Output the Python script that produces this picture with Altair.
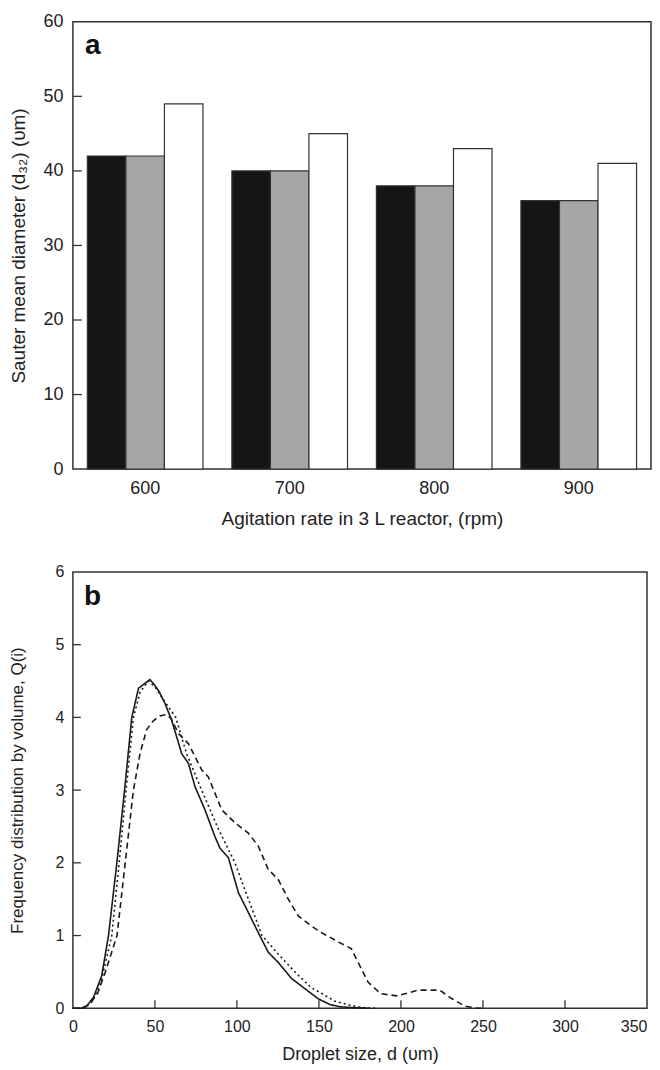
import altair as alt
import pandas as pd

# ---------------- Panel a data ----------------
rpm = ["600", "700", "800", "900"]
series_a = ["s1", "s2", "s3"]
s1_vals = [42, 40, 38, 36]
s2_vals = [42, 40, 38, 36]
s3_vals = [49, 45, 43, 41]
yticks_a = [10, 20, 30, 40, 50]

# ---------------- Panel b data ----------------
solid_x = [0, 5, 8, 12.6, 17.6, 21.7, 26.8, 31.5, 35.9, 40, 44, 47, 49.6, 52.2, 56.2,
           60.2, 63.3, 66.3, 70.4, 74.4, 80.5, 86.6, 89.7, 94.8, 100.9, 106.9, 113,
           119.1, 125.2, 133.3, 141.4, 149.6, 156.9, 163, 170, 180]
solid_y = [0, 0, 0.02, 0.15, 0.45, 1.0, 2.0, 3.0, 4.0, 4.4, 4.47, 4.52, 4.45, 4.37, 4.19,
           3.96, 3.73, 3.5, 3.37, 3.05, 2.73, 2.36, 2.2, 2.07, 1.59, 1.32, 1.04,
           0.77, 0.63, 0.41, 0.27, 0.13, 0.05, 0.02, 0.01, 0]

dotted_x = [0, 7, 12, 17, 23.7, 28.2, 32.4, 36.9, 41, 46, 50, 55, 62.7, 69.3, 78.5, 88,
            98.8, 105.5, 115.3, 125, 135.3, 145.5, 152, 159.4, 169.7, 176, 185]
dotted_y = [0, 0, 0.1, 0.35, 1.0, 2.0, 3.0, 4.0, 4.35, 4.5, 4.42, 4.25, 4.0, 3.5, 3.0, 2.5,
            2.0, 1.59, 1.0, 0.75, 0.5, 0.28, 0.2, 0.1, 0.04, 0.01, 0]

dashed_x = [0, 5, 10, 15, 19.8, 26.9, 31.9, 36.9, 40.9, 44.9, 48.9, 53, 57, 60, 64.3, 70.4,
            78.5, 82.6, 90.7, 98.8, 106.9, 113, 119.1, 125.2, 131.3, 137.4, 145.5, 151.6,
            162, 169.7, 179.9, 187.7, 197.8, 210.6, 223.6, 231.2, 238.9, 246.7, 250]
dashed_y = [0, 0, 0.05, 0.2, 0.5, 1.0, 2.0, 3.0, 3.5, 3.83, 3.95, 4.02, 4.04, 3.98, 3.78, 3.64,
            3.28, 3.18, 2.73, 2.55, 2.41, 2.23, 1.91, 1.77, 1.5, 1.27, 1.13, 1.04,
            0.91, 0.82, 0.36, 0.2, 0.17, 0.25, 0.25, 0.13, 0.03, 0.0, 0]

yticks_b = [1, 2, 3, 4, 5]
xticks_b = [50, 100, 150, 200, 250, 300]

FONT = "Liberation Sans"
TXT = "#222222"
EDGE = "#333333"

WA, HA = 579, 448
WB, HB = 575, 437

# ---------------- Panel a ----------------
rows = []
for i, r in enumerate(rpm):
    for s, vals in zip(series_a, [s1_vals, s2_vals, s3_vals]):
        rows.append({"rpm": r, "series": s, "value": vals[i]})
df_a = pd.DataFrame(rows)

bars = alt.Chart(df_a).mark_bar(stroke=EDGE, strokeWidth=1.2).encode(
    x=alt.X("rpm:N", sort=rpm,
            scale=alt.Scale(paddingInner=0.2, paddingOuter=0.1),
            axis=alt.Axis(title="Agitation rate in 3 L reactor, (rpm)", labelAngle=0,
                          ticks=False, tickSize=0, domain=False, labelPadding=10,
                          titlePadding=12, labelFontSize=18, titleFontSize=19)),
    xOffset=alt.XOffset("series:N", sort=series_a),
    y=alt.Y("value:Q", scale=alt.Scale(domain=[0, 60], nice=False),
            axis=alt.Axis(title="Sauter mean diameter (d₃₂) (υm)", values=[0, 10, 20, 30, 40, 50, 60],
                          format="d", ticks=False, tickSize=0, domain=False, grid=False,
                          labelPadding=10, minExtent=30, maxExtent=30, titlePadding=14,
                          labelFontSize=18, titleFontSize=19)),
    color=alt.Color("series:N", scale=alt.Scale(domain=series_a,
                    range=["#151515", "#a6a6a6", "#ffffff"]), legend=None),
)

ticks_a = alt.Chart(pd.DataFrame({"v": yticks_a})).mark_rule(color=EDGE, strokeWidth=1.3).encode(
    y=alt.Y("v:Q"), x=alt.value(0), x2=alt.value(9))

label_a = alt.Chart(pd.DataFrame({"t": ["a"]})).mark_text(
    font=FONT, fontSize=28, fontWeight="bold", align="left", baseline="alphabetic", color="#111"
).encode(x=alt.value(12), y=alt.value(32), text="t:N")

panel_a = alt.layer(bars, ticks_a, label_a).properties(width=WA, height=HA)

# ---------------- Panel b ----------------
frames = []
for name, xs, ys in [("solid", solid_x, solid_y), ("dotted", dotted_x, dotted_y), ("dashed", dashed_x, dashed_y)]:
    frames.append(pd.DataFrame({"d": xs, "q": ys, "series": name, "ord": range(len(xs))}))
df_b = pd.concat(frames, ignore_index=True)

lines = alt.Chart(df_b).mark_line(color="#1a1a1a", strokeWidth=1.6).encode(
    x=alt.X("d:Q", scale=alt.Scale(domain=[0, 350], nice=False),
            axis=alt.Axis(title="Droplet size, d (υm)", values=[0, 50, 100, 150, 200, 250, 300, 350],
                          format="d", ticks=False, tickSize=0, domain=False, grid=False, labelPadding=10,
                          titlePadding=11, labelFontSize=16, titleFontSize=18, labelFlush=False,
                          labelAlign={"expr": "datum.value >= 350 ? 'right' : 'center'"})),
    y=alt.Y("q:Q", scale=alt.Scale(domain=[0, 6], nice=False),
            axis=alt.Axis(title="Frequency distribution by volume, Q(i)", values=[0, 1, 2, 3, 4, 5, 6],
                          format="d", ticks=False, tickSize=0, domain=False, grid=False, labelPadding=9,
                          minExtent=30, maxExtent=30, titlePadding=16,
                          labelFontSize=16, titleFontSize=17)),
    strokeDash=alt.StrokeDash("series:N", scale=alt.Scale(domain=["solid", "dotted", "dashed"],
                              range=[[1, 0], [2, 3], [6, 4]]), legend=None),
    order="ord:Q",
)

ticks_by = alt.Chart(pd.DataFrame({"v": yticks_b})).mark_rule(color=EDGE, strokeWidth=1.3).encode(
    y=alt.Y("v:Q"), x=alt.value(0), x2=alt.value(8))
ticks_bx = alt.Chart(pd.DataFrame({"v": xticks_b})).mark_rule(color=EDGE, strokeWidth=1.3).encode(
    x=alt.X("v:Q"), y=alt.value(HB), y2=alt.value(HB - 8))

label_b = alt.Chart(pd.DataFrame({"t": ["b"]})).mark_text(
    font=FONT, fontSize=28, fontWeight="bold", align="left", baseline="alphabetic", color="#111"
).encode(x=alt.value(11), y=alt.value(33), text="t:N")

panel_b = alt.layer(lines, ticks_by, ticks_bx, label_b).properties(width=WB, height=HB)

chart = alt.vconcat(panel_a, panel_b, spacing=34).properties(
    padding={"left": 0, "top": 3, "right": 0, "bottom": 0},
    background="white"
).configure_view(
    stroke=EDGE, strokeWidth=1.5
).configure_axis(
    labelFont=FONT, titleFont=FONT, labelColor=TXT, titleColor=TXT, titleFontWeight="normal"
)

chart.save("out.html", embed_options={"renderer": "svg", "actions": False})
